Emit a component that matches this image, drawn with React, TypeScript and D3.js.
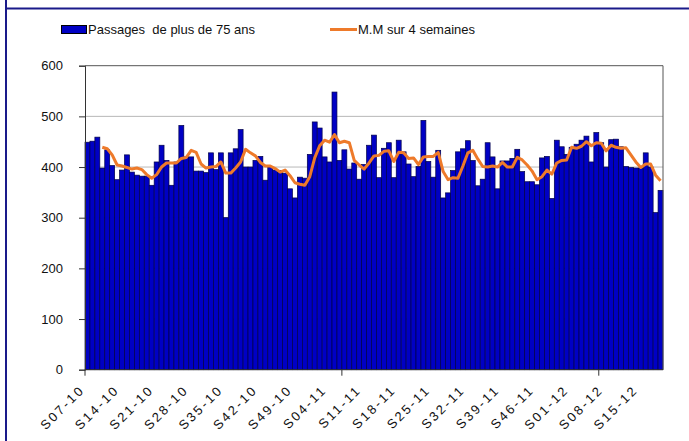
import { useEffect, useRef } from 'react';
import * as d3 from 'd3';

// weekly categories, S07-10 .. S19-12
const weeks2010 = 'S07-10 S08-10 S09-10 S10-10 S11-10 S12-10 S13-10 S14-10 S15-10 S16-10 S17-10 S18-10 S19-10 S20-10 S21-10 S22-10 S23-10 S24-10 S25-10 S26-10 S27-10 S28-10 S29-10 S30-10 S31-10 S32-10 S33-10 S34-10 S35-10 S36-10 S37-10 S38-10 S39-10 S40-10 S41-10 S42-10 S43-10 S44-10 S45-10 S46-10 S47-10 S48-10 S49-10 S50-10 S51-10 S52-10'.split(' ');
const weeks2011 = 'S01-11 S02-11 S03-11 S04-11 S05-11 S06-11 S07-11 S08-11 S09-11 S10-11 S11-11 S12-11 S13-11 S14-11 S15-11 S16-11 S17-11 S18-11 S19-11 S20-11 S21-11 S22-11 S23-11 S24-11 S25-11 S26-11 S27-11 S28-11 S29-11 S30-11 S31-11 S32-11 S33-11 S34-11 S35-11 S36-11 S37-11 S38-11 S39-11 S40-11 S41-11 S42-11 S43-11 S44-11 S45-11 S46-11 S47-11 S48-11 S49-11 S50-11 S51-11 S52-11'.split(' ');
const weeks2012 = 'S01-12 S02-12 S03-12 S04-12 S05-12 S06-12 S07-12 S08-12 S09-12 S10-12 S11-12 S12-12 S13-12 S14-12 S15-12 S16-12 S17-12 S18-12 S19-12'.split(' ');
const weeks = [...weeks2010, ...weeks2011, ...weeks2012];

// Passages de plus de 75 ans
const passages = [
  449, 451, 459, 398, 434, 403, 375, 394, 424, 390, 384, 382, 382, 364, 410, 443, 413, 364, 410, 482,
  420, 420, 392, 392, 389, 428, 395, 428, 300, 428, 436, 474, 400, 400, 413, 421, 374, 400, 394, 393,
  388, 357, 339, 380, 378, 425, 489, 477, 420, 410, 548, 413, 434, 396, 408, 376, 405, 443, 463, 379,
  437, 448, 379, 453, 430, 406, 381, 401, 492, 411, 380, 433, 339, 349, 393, 430, 436, 452, 413, 363,
  376, 448, 420, 357, 412, 412, 417, 435, 391, 371, 371, 365, 418, 421, 338, 453, 440, 425, 439, 445,
  453, 461, 410, 468, 448, 400, 454, 455, 440, 401, 399, 398, 398, 428, 400, 310, 354,
];

// M.M sur 4 semaines (starts at the 4th week)
const movingAvg = [
  439, 436, 424, 404, 402, 399, 396, 398, 395, 385, 378, 385, 400, 408, 408, 408, 417,
  419, 433, 429, 406, 398, 400, 401, 410, 388, 388, 398, 410, 435, 428, 422, 409, 402, 402, 397,
  390, 394, 383, 369, 366, 364, 381, 418, 442, 453, 449, 464, 448, 451, 448, 413, 404, 396, 408,
  422, 423, 431, 432, 411, 429, 428, 417, 418, 405, 420, 421, 421, 429, 391, 375, 379, 378, 402,
  428, 433, 416, 401, 400, 402, 400, 409, 400, 400, 419, 414, 404, 392, 375, 381, 394, 386, 408,
  413, 414, 439, 437, 441, 450, 442, 448, 447, 432, 443, 439, 437, 438, 424, 410, 399, 406, 406,
  384, 373,
];
const maStart = 3;

const yTicks = [0, 100, 200, 300, 400, 500, 600];
const labelEvery = 7;
const tickEvery = 52;

const W = 689;
const H = 441;
const FONT = 'Arial, "Liberation Sans", sans-serif';

export default function App() {
  const ref = useRef<SVGSVGElement>(null);

  useEffect(() => {
    const svg = d3.select(ref.current);
    svg.selectAll('*').remove();

    const left = 85, right = 663, top = 65.7, bottom = 369.7;
    const x = d3.scaleBand<string>().domain(weeks).range([left, right]).padding(0);
    const y = d3.scaleLinear().domain([0, 600]).range([bottom, top]);
    const bw = x.bandwidth();

    svg.append('rect').attr('width', W).attr('height', H).attr('fill', '#fff');

    // frame (cropped outer border)
    svg.append('line').attr('x1', 6).attr('x2', 6).attr('y1', 0).attr('y2', H)
      .attr('stroke', '#1a1a8a').attr('stroke-width', 2);
    svg.append('line').attr('x1', 6).attr('x2', W).attr('y1', 8.5).attr('y2', 8.5)
      .attr('stroke', '#1a1a8a').attr('stroke-width', 2);

    // legend
    svg.append('rect').attr('x', 61.5).attr('y', 25.5).attr('width', 25).attr('height', 8)
      .attr('fill', '#0000c4').attr('stroke', '#000').attr('stroke-width', 1);
    svg.append('text').attr('x', 88).attr('y', 34).attr('font-family', FONT).attr('font-size', 13)
      .attr('fill', '#111').style('white-space', 'pre').text('Passages  de plus de 75 ans');
    svg.append('line').attr('x1', 330).attr('x2', 357).attr('y1', 29.5).attr('y2', 29.5)
      .attr('stroke', '#ee7a2a').attr('stroke-width', 3);
    svg.append('text').attr('x', 358).attr('y', 34).attr('font-family', FONT).attr('font-size', 13)
      .attr('fill', '#111').text('M.M sur 4 semaines');

    // gridlines
    svg.append('g').selectAll('line').data(yTicks.filter(t => t > 0 && t < 600)).join('line')
      .attr('x1', left).attr('x2', right).attr('y1', d => y(d)).attr('y2', d => y(d))
      .attr('stroke', '#b8b8b8').attr('stroke-width', 1);

    // bars
    svg.append('g').selectAll('rect').data(passages).join('rect')
      .attr('x', (_, i) => x(weeks[i])!)
      .attr('width', bw)
      .attr('y', d => y(d))
      .attr('height', d => y(0) - y(d))
      .attr('fill', '#0000c4')
      .attr('stroke', '#000048')
      .attr('stroke-width', 0.7);

    // moving average
    const line = d3.line<number>()
      .x((_, i) => x(weeks[i + maStart])! + bw / 2)
      .y(d => y(d));
    svg.append('path').datum(movingAvg).attr('d', line)
      .attr('fill', 'none').attr('stroke', '#ee7a2a').attr('stroke-width', 3)
      .attr('stroke-linejoin', 'round');

    // plot border (top/right)
    svg.append('path').attr('d', `M${left},${top}H${right}V${bottom}`)
      .attr('fill', 'none').attr('stroke', '#555').attr('stroke-width', 1);

    // y axis
    const ya = svg.append('g').attr('transform', `translate(${left},0)`)
      .call(d3.axisLeft(y).tickValues(yTicks).tickSize(6).tickPadding(16));
    ya.select('.domain').attr('stroke', '#333');
    ya.selectAll('line').attr('stroke', '#333');
    ya.selectAll('text').attr('font-family', FONT).attr('font-size', 13).attr('fill', '#111');

    // x axis
    svg.append('line').attr('x1', left).attr('x2', right).attr('y1', bottom).attr('y2', bottom)
      .attr('stroke', '#333');
    const tickIdx = d3.range(0, weeks.length, tickEvery);
    svg.append('g').selectAll('line').data(tickIdx).join('line')
      .attr('x1', i => x(weeks[i])!).attr('x2', i => x(weeks[i])!)
      .attr('y1', bottom).attr('y2', bottom + 6).attr('stroke', '#333');

    const labelIdx = d3.range(0, weeks.length, labelEvery);
    svg.append('g').selectAll('text').data(labelIdx).join('text')
      .attr('transform', i => `translate(${x(weeks[i])! + bw / 2 - 2},${bottom + 21}) rotate(-45)`)
      .attr('text-anchor', 'end')
      .attr('font-family', FONT).attr('font-size', 13).attr('letter-spacing', 2.4)
      .attr('fill', '#111')
      .text(i => weeks[i]);
  }, []);

  return (
    <div style={{ position: 'absolute', left: 0, top: 0 }}>
      <svg ref={ref} width={W} height={H} style={{ display: 'block' }} />
    </div>
  );
}
